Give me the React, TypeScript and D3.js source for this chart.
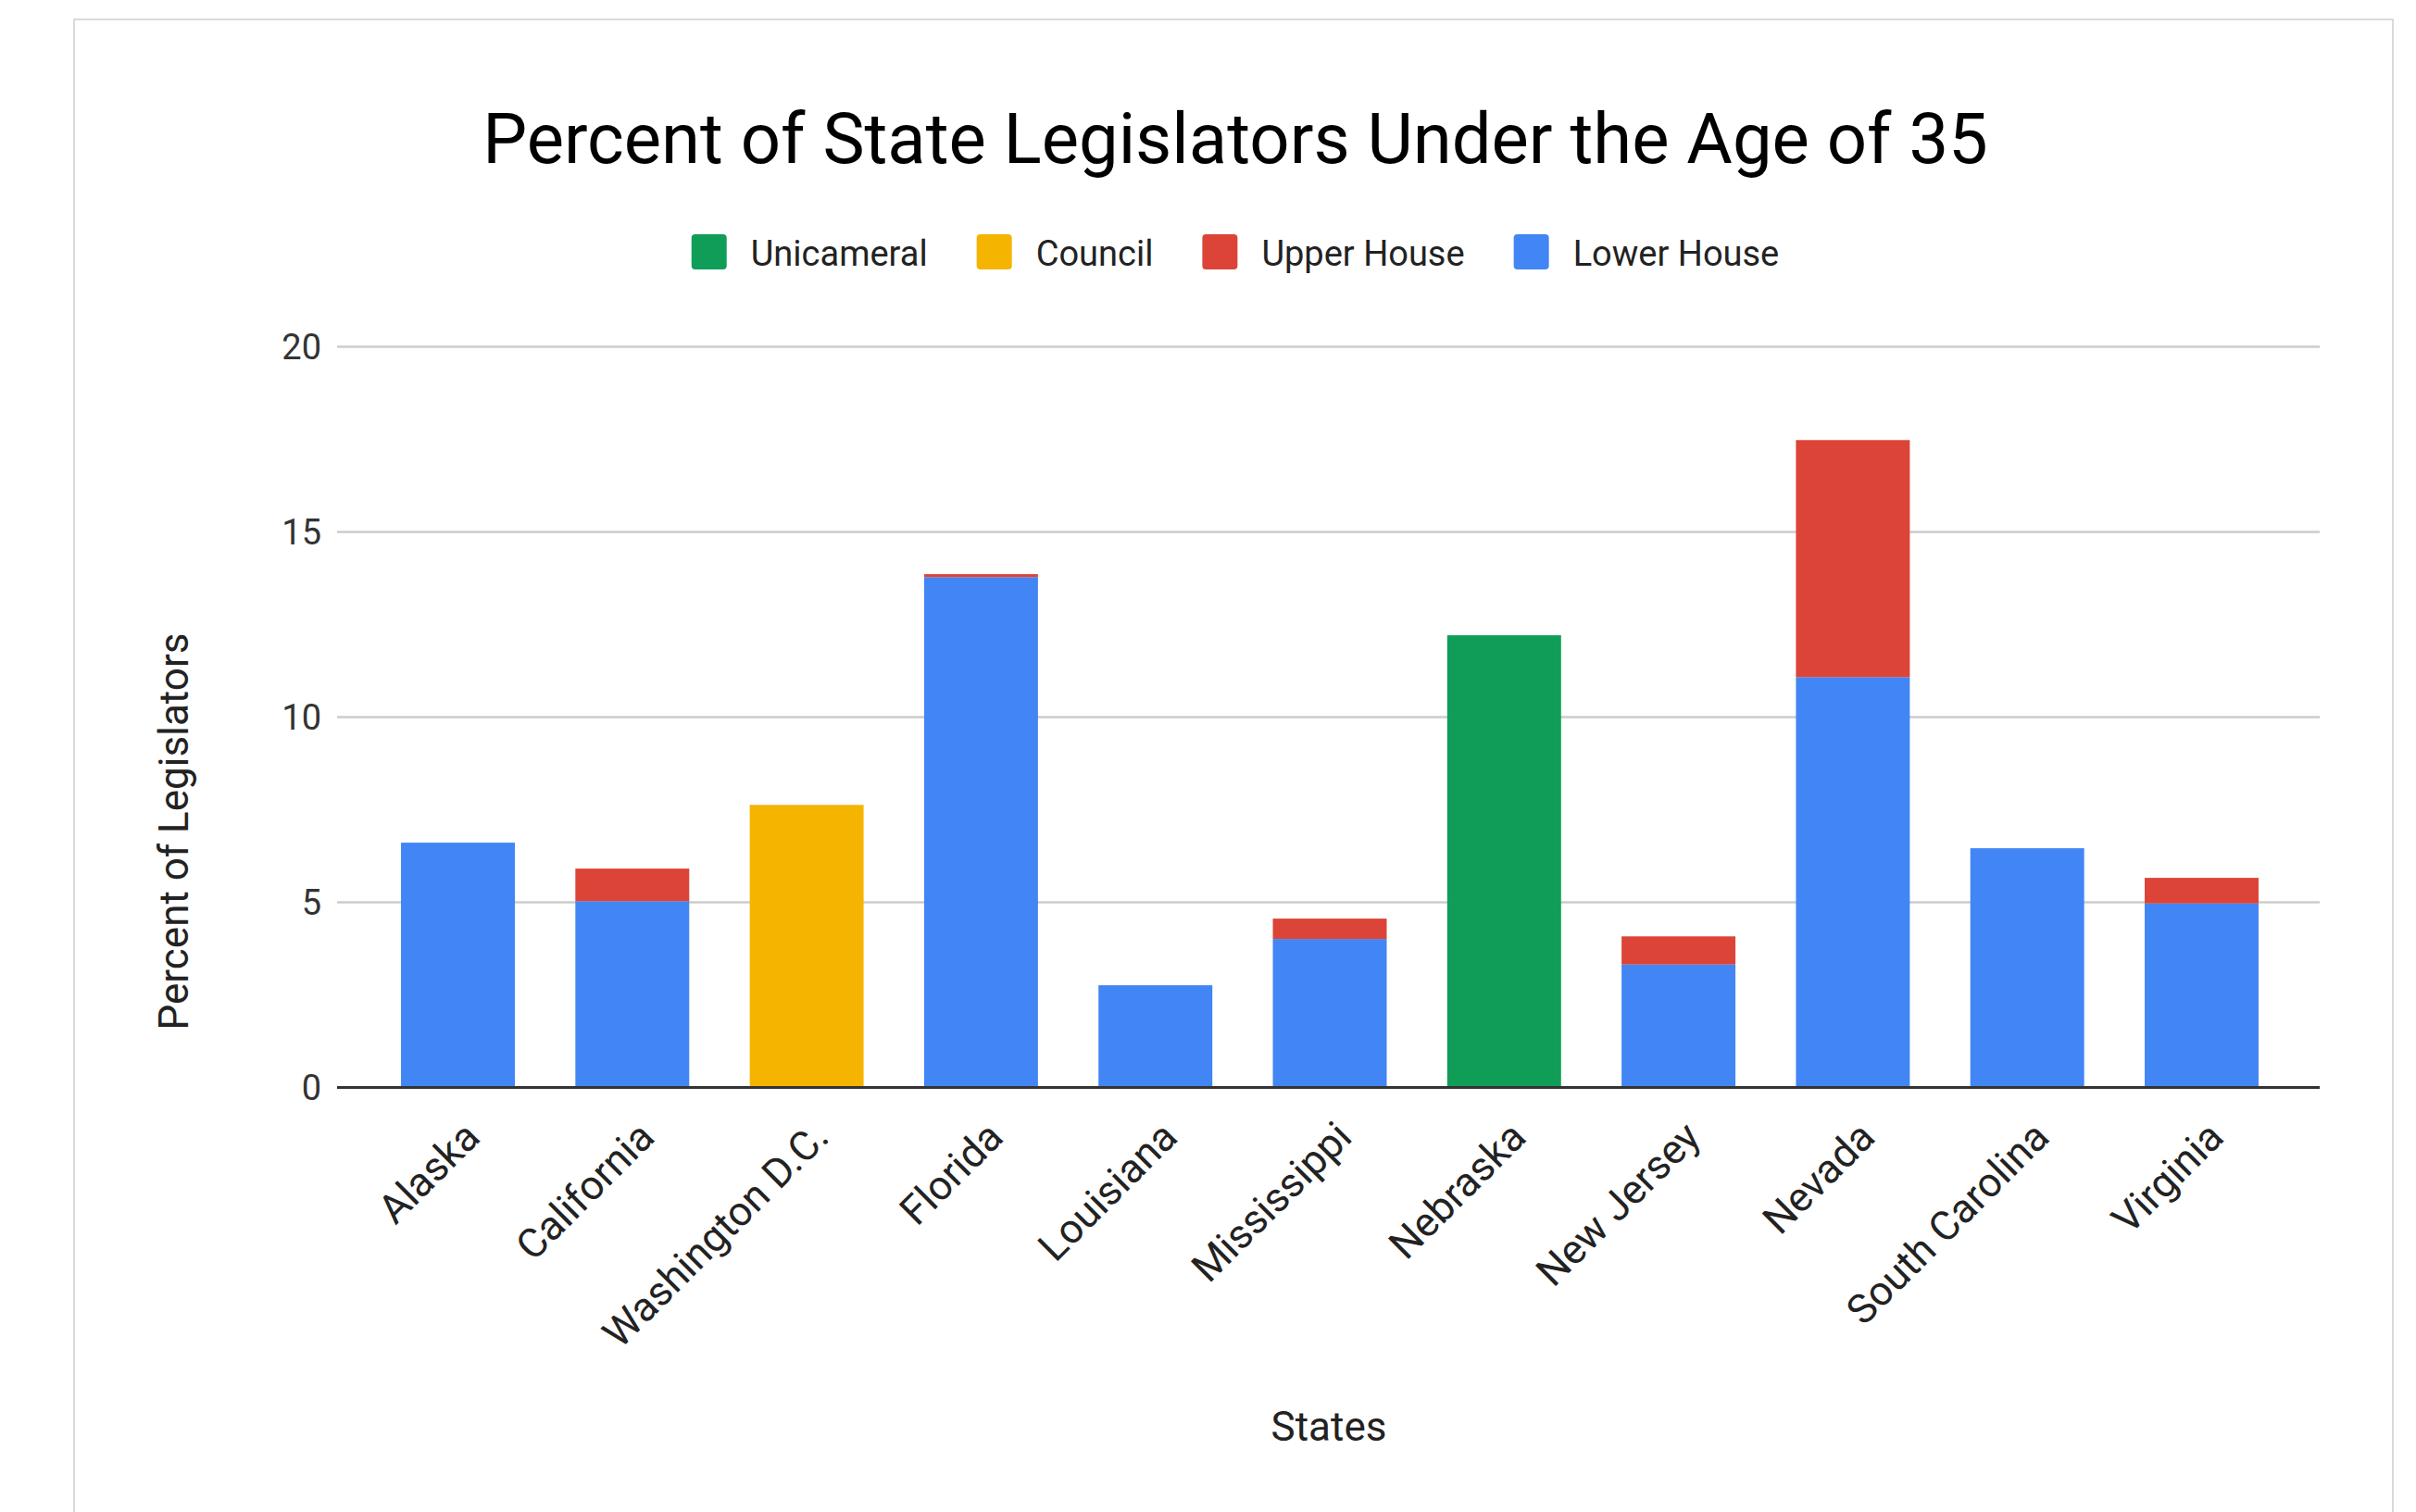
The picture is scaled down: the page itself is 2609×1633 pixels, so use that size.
import React from "react";
import * as d3 from "d3";

const states = [
  "Alaska",
  "California",
  "Washington D.C.",
  "Florida",
  "Louisiana",
  "Mississippi",
  "Nebraska",
  "New Jersey",
  "Nevada",
  "South Carolina",
  "Virginia",
];
const lowerHouse = [6.61, 5.03, 0, 13.78, 2.76, 4.01, 0, 3.32, 11.08, 6.46, 4.97];
const upperHouse = [0, 0.88, 0, 0.08, 0, 0.55, 0, 0.76, 6.4, 0, 0.69];
const council = [0, 0, 7.63, 0, 0, 0, 0, 0, 0, 0, 0];
const unicameral = [0, 0, 0, 0, 0, 0, 12.21, 0, 0, 0, 0];
const yTicks = [0, 5, 10, 15, 20];

const seriesKeys = ["lower", "upper", "council", "unicameral"];
const seriesColors: Record<string, string> = {
  lower: "#4285F4",
  upper: "#DB4437",
  council: "#F4B400",
  unicameral: "#0F9D58",
};
const legendItems = [
  { key: "unicameral", label: "Unicameral" },
  { key: "council", label: "Council" },
  { key: "upper", label: "Upper House" },
  { key: "lower", label: "Lower House" },
];

const W = 2609;
const H = 1633;
const FONT = "Roboto, 'Noto Sans', sans-serif";

function measure(text: string, size: number) {
  const c = document.createElement("canvas").getContext("2d");
  if (!c) return text.length * size * 0.5;
  c.font = `${size}px Roboto`;
  return c.measureText(text).width;
}

export default function App() {
  React.useEffect(() => {
    document.body.style.margin = "0";
    document.body.style.overflow = "hidden";
  }, []);

  const rows = states.map((s, i) => ({
    state: s,
    lower: lowerHouse[i],
    upper: upperHouse[i],
    council: council[i],
    unicameral: unicameral[i],
  }));
  const stacked = d3.stack<any>().keys(seriesKeys)(rows);

  const gridX0 = 364;
  const gridX1 = 2505;
  const x = d3
    .scaleBand<string>()
    .domain(states)
    .range([366, 2506])
    .paddingInner(0.347)
    .paddingOuter(0.356);
  const y = d3.scaleLinear().domain([0, 20]).range([1174.5, 374.5]);

  // legend layout
  const legSize = 38;
  const swatch = 38;
  const swGap = 26;
  const itemGap = 53;
  const widths = legendItems.map((d) => measure(d.label, legSize));
  const total =
    widths.reduce((a, b) => a + b, 0) +
    legendItems.length * (swatch + swGap) +
    (legendItems.length - 1) * itemGap;
  let cursor = 1334 - total / 2;
  const legendPos = legendItems.map((d, i) => {
    const p = { ...d, x: cursor, w: widths[i] };
    cursor += swatch + swGap + widths[i] + itemGap;
    return p;
  });

  return (
    <div style={{ position: "absolute", left: 0, top: 0 }}>
      <svg width={W} height={H} style={{ display: "block", fontFamily: FONT }}>
        <rect x={0} y={0} width={W} height={H} fill="#fff" />
        <rect x={80} y={21} width={2504} height={1700} fill="#fff" stroke="#dadada" strokeWidth={2} />
        <text x={1334} y={176} textAnchor="middle" fontSize={76} fill="#000">
          Percent of State Legislators Under the Age of 35
        </text>

        {legendPos.map((d) => (
          <g key={d.key}>
            <rect x={d.x} y={253} width={swatch} height={swatch} rx={4} fill={seriesColors[d.key]} />
            <text x={d.x + swatch + swGap} y={287} fontSize={legSize} fill="#222">
              {d.label}
            </text>
          </g>
        ))}

        {yTicks.map((t) => (
          <g key={t}>
            {t !== 0 && (
              <line x1={gridX0} x2={gridX1} y1={y(t)} y2={y(t)} stroke="#cccccc" strokeWidth={2.6} />
            )}
            <text x={347} y={y(t) + 13} textAnchor="end" fontSize={38} fill="#333">
              {t}
            </text>
          </g>
        ))}

        {stacked.map((layer) => (
          <g key={layer.key} fill={seriesColors[layer.key]}>
            {layer.map((d: any, i: number) =>
              d[1] - d[0] > 0 ? (
                <rect
                  key={i}
                  x={x(states[i])}
                  y={y(d[1])}
                  width={x.bandwidth()}
                  height={y(d[0]) - y(d[1])}
                />
              ) : null
            )}
          </g>
        ))}

        <line x1={gridX0} x2={gridX1} y1={y(0)} y2={y(0)} stroke="#333" strokeWidth={3} />

        {states.map((s) => {
          const cx = (x(s) as number) + x.bandwidth() / 2;
          return (
            <text
              key={s}
              transform={`translate(${cx + 26},${y(0) + 56}) rotate(-45)`}
              textAnchor="end"
              fontSize={44}
              fill="#222"
            >
              {s}
            </text>
          );
        })}

        <text x={1435} y={1556} textAnchor="middle" fontSize={44} fill="#222">
          States
        </text>
        <text transform="translate(203,898) rotate(-90)" textAnchor="middle" fontSize={44} fill="#222">
          Percent of Legislators
        </text>
      </svg>
    </div>
  );
}
